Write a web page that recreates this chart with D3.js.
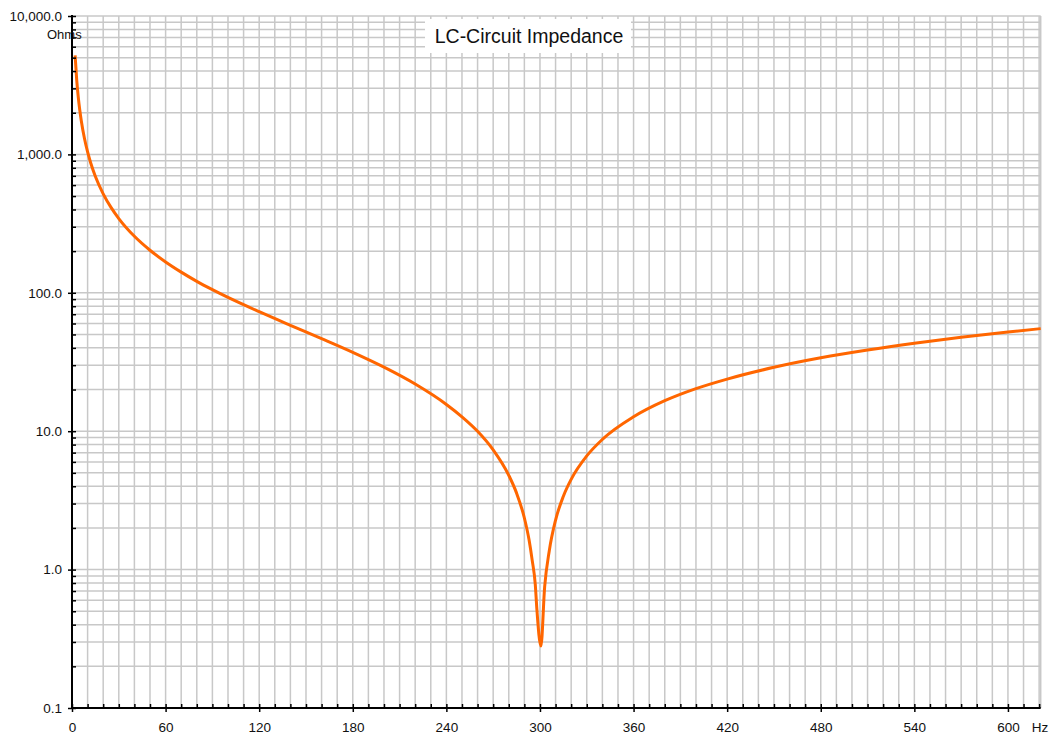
<!DOCTYPE html>
<html>
<head>
<meta charset="utf-8">
<script src="https://cdn.jsdelivr.net/npm/d3@7"></script>
<style>
  html, body { margin: 0; padding: 0; background: #fff; }
  svg { display: block; font-family: "Liberation Sans", Arial, sans-serif; }
</style>
</head>
<body>
<svg id="chart" width="1049" height="734"></svg>
<script>
// ---- data ----
const frequencies = [2, 3, 4, 5, 6, 8, 10, 12, 15, 20, 25, 30, 40, 50, 60, 70, 80, 90, 100,
  120, 140, 160, 180, 200, 220, 240, 250, 260, 270, 280, 285, 290, 293, 295, 297, 298, 300.6,
  303, 306, 310, 315, 320, 330, 340, 360, 380, 400, 420, 450, 480, 510, 540, 570, 600, 621];
const impedance = [5200, 3470, 2605, 2084, 1736, 1302, 1041, 867, 693, 519, 414, 344, 256, 203, 167, 141, 121, 105.4, 92.6,
  73.0, 58.2, 46.6, 37.1, 29.0, 21.9, 15.6, 12.7, 9.98, 7.33, 4.80, 3.57, 2.36, 1.64, 1.17, 0.78, 0.52, 0.28,
  0.75, 1.376, 2.28, 3.39, 4.49, 6.63, 8.72, 12.7, 16.6, 20.3, 23.8, 28.95, 33.9, 38.6, 43.2, 47.7, 52.1, 55.1];
const xTickLabels = [0, 60, 120, 180, 240, 300, 360, 420, 480, 540, 600];
const yTickLabels = [0.1, 1, 10, 100, 1000, 10000];
const titleText = "LC-Circuit Impedance";
const yUnit = "Ohms";
const xUnit = "Hz";

(function () {
// ---- layout ----
const svg = d3.select("#chart");
const pLeft = 72, pRight = 1040.7, pTop = 16, pBottom = 708;

const x = d3.scaleLinear().domain([0, 621]).range([pLeft, pRight]);
const y = d3.scaleLog().domain([0.1, 10000]).range([pBottom, pTop]);

const xMinor = d3.range(0, 621, 10);
const yMinor = [];
[0.1, 1, 10, 100, 1000].forEach(d => { for (let k = 1; k <= 9; k++) yMinor.push(+(d * k).toPrecision(3)); });
yMinor.push(10000);

// grid
const grid = svg.append("g").attr("stroke", "#c8c8c8").attr("stroke-width", 1.5);
grid.selectAll("line.v").data(xMinor.filter(d => d > 0)).join("line").attr("class", "v")
  .attr("x1", d => x(d)).attr("x2", d => x(d)).attr("y1", pTop).attr("y2", pBottom);
grid.selectAll("line.h").data(yMinor.filter(d => d > 0.1)).join("line").attr("class", "h")
  .attr("x1", pLeft).attr("x2", pRight).attr("y1", d => y(d)).attr("y2", d => y(d));
grid.append("line").attr("x1", pRight).attr("x2", pRight).attr("y1", pTop).attr("y2", pBottom);

// title box
const tb = svg.append("g");
tb.append("rect").attr("x", 425).attr("y", 19).attr("width", 206).attr("height", 34).attr("fill", "#fff");
tb.append("text").attr("x", 529).attr("y", 43).attr("text-anchor", "middle")
  .attr("font-size", 19.5).attr("fill", "#111").text(titleText);

// curve
const line = d3.line()
  .x((d, i) => x(frequencies[i]))
  .y((d, i) => y(impedance[i]))
  .curve(d3.curveMonotoneX);
svg.append("path").datum(impedance)
  .attr("d", line).attr("fill", "none")
  .attr("stroke", "#ff6600").attr("stroke-width", 3).attr("stroke-linejoin", "round");

// axes
const fmtY = d3.format(",.1f");
const yOut = svg.append("g").attr("transform", `translate(${pLeft},0)`)
  .call(d3.axisLeft(y).tickValues(yTickLabels).tickSize(4).tickPadding(6).tickFormat(fmtY));
const yIn = svg.append("g").attr("transform", `translate(${pLeft},0)`)
  .call(d3.axisRight(y).tickValues(yMinor).tickSize(4).tickFormat(""));
const xOut = svg.append("g").attr("transform", `translate(0,${pBottom})`)
  .call(d3.axisBottom(x).tickValues(xTickLabels).tickSize(4).tickPadding(10).tickFormat(d3.format("d")));
const xIn = svg.append("g").attr("transform", `translate(0,${pBottom})`)
  .call(d3.axisTop(x).tickValues(xMinor).tickSize(4).tickFormat(""));

[yOut, yIn, xOut, xIn].forEach(g => {
  g.select(".domain").remove();
  g.selectAll(".tick line").attr("stroke", "#000").attr("stroke-width", 1.5);
  g.selectAll("text").attr("font-size", 13.5).attr("fill", "#111")
    .attr("font-family", "'Liberation Sans', Arial, sans-serif");
});
svg.append("line").attr("x1", pLeft).attr("x2", pLeft).attr("y1", pTop - 1).attr("y2", pBottom + 1)
  .attr("stroke", "#000").attr("stroke-width", 2);
svg.append("line").attr("x1", pLeft - 1).attr("x2", pRight).attr("y1", pBottom).attr("y2", pBottom)
  .attr("stroke", "#000").attr("stroke-width", 2);

// units
svg.append("text").attr("x", 47).attr("y", 39).attr("font-size", 13).attr("fill", "#111").text(yUnit);
svg.append("text").attr("x", 1040).attr("y", 731.5).attr("text-anchor", "middle")
  .attr("font-size", 13.5).attr("fill", "#111").text(xUnit);
})();
</script>
</body>
</html>
